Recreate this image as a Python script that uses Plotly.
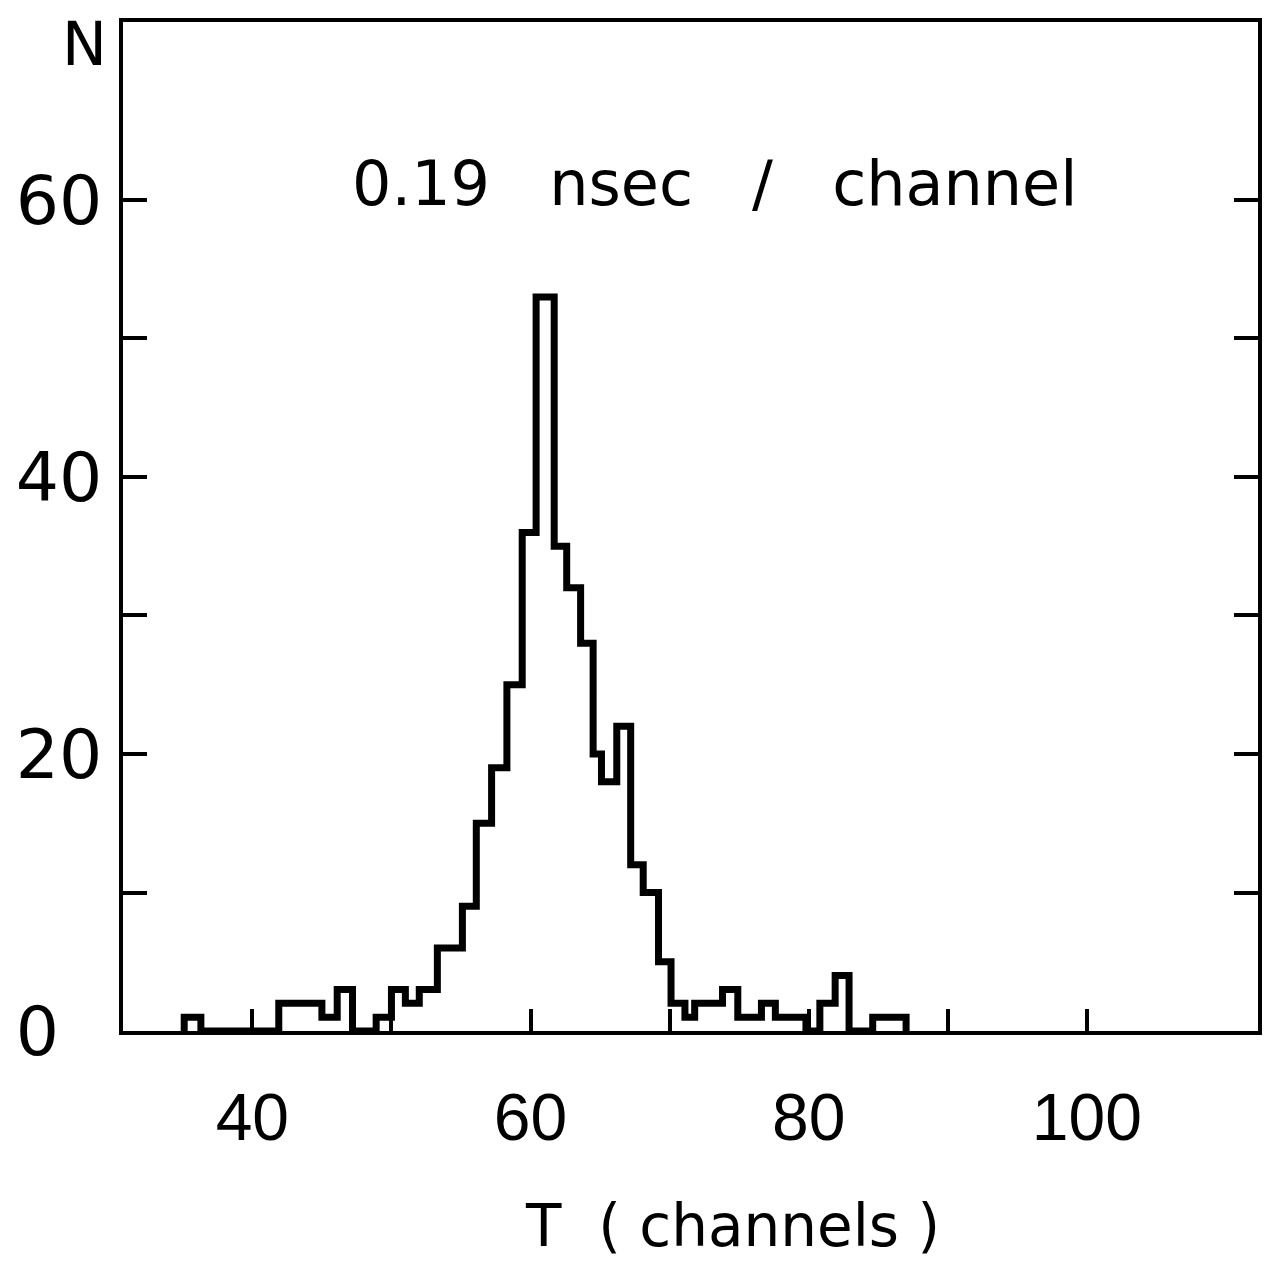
import plotly.graph_objects as go

# Histogram: bin edges in channels and counts per bin
bin_edges = [35.1, 36.3, 41.9, 45.0, 46.1, 47.2, 48.9, 50.0, 51.0, 52.0, 53.3,
             55.1, 56.1, 57.2, 58.3, 59.4, 60.4, 61.7, 62.6, 63.6, 64.5, 65.1,
             66.2, 67.2, 68.1, 69.2, 70.1, 71.1, 71.8, 73.8, 74.9, 76.6, 77.6,
             79.8, 80.8, 81.9, 82.9, 84.6, 87.0]
counts = [1, 0, 2, 1, 3, 0, 1, 3, 2, 3, 6,
          9, 15, 19, 25, 36, 53, 35, 32, 28, 20,
          18, 22, 12, 10, 5, 2, 1, 2, 3, 1,
          2, 1, 0, 2, 4, 0, 1]

x_tick_vals = [40, 50, 60, 70, 80, 90, 100]
x_tick_text = ["40", "", "60", "", "80", "", "100"]
y_tick_vals = [0, 10, 20, 30, 40, 50, 60]
y_tick_text = ["0\u2007", "", "20", "", "40", "", "60"]

title_text = "0.19\u00a0\u00a0 nsec\u00a0\u00a0 /\u00a0\u00a0 channel"
x_label = "T\u00a0 (\u00a0channels\u00a0)"
y_label = "N"

# step outline built from the edges and counts
xs = [bin_edges[0]] + bin_edges
ys = [0] + counts + [0]

fig = go.Figure()
fig.add_trace(go.Scatter(
    x=xs, y=ys, mode="lines", line=dict(shape="hv", color="black", width=7),
    showlegend=False, hoverinfo="skip"))

fig.update_layout(
    width=1267, height=1267,
    margin=dict(l=123, r=5, t=22, b=236),
    paper_bgcolor="white", plot_bgcolor="white",
    showlegend=False,
)
fig.update_xaxes(
    range=[30.7, 112.3], showgrid=False, zeroline=False,
    showline=True, linecolor="black", linewidth=4, mirror=True,
    tickmode="array", tickvals=x_tick_vals, ticktext=x_tick_text,
    ticks="inside", ticklen=22, tickwidth=4, tickcolor="black",
    ticklabelstandoff=26,
    tickfont=dict(family="Liberation Sans", size=66, color="black"),
)
fig.update_yaxes(
    range=[0, 72.85], showgrid=False, zeroline=False,
    showline=True, linecolor="black", linewidth=4, mirror="ticks",
    tickmode="array", tickvals=y_tick_vals, ticktext=y_tick_text,
    ticks="inside", ticklen=24, tickwidth=4, tickcolor="black",
    ticklabelstandoff=3,
    tickfont=dict(family="DejaVu Sans", size=68, color="black"),
)

fig.add_annotation(text=title_text, xref="paper", yref="paper",
                   x=0.5215, y=0.840, xanchor="center", yanchor="middle",
                   showarrow=False,
                   font=dict(family="DejaVu Sans", size=62, color="black"))
fig.add_annotation(text=x_label, xref="paper", yref="paper",
                   x=0.537, y=-0.193, xanchor="center", yanchor="middle",
                   showarrow=False,
                   font=dict(family="DejaVu Sans", size=58, color="black"))
fig.add_annotation(text=y_label, xref="paper", yref="paper",
                   x=-0.034, y=0.978, xanchor="center", yanchor="middle",
                   showarrow=False,
                   font=dict(family="DejaVu Sans", size=60, color="black"))

fig.write_html("out.html")
